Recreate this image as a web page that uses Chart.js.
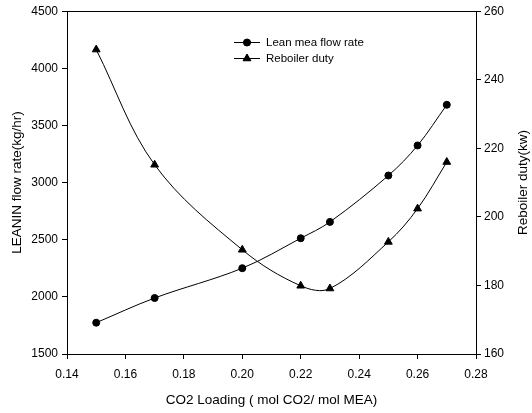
<!DOCTYPE html>
<html>
<head>
<meta charset="utf-8">
<script src="https://cdn.jsdelivr.net/npm/chart.js@4/dist/chart.umd.min.js"></script>
<style>
  html, body { margin: 0; padding: 0; background: #fff; }
  #wrap { width: 532px; height: 413px; }
</style>
</head>
<body>
<div id="wrap"><canvas id="chart" width="532" height="413"></canvas></div>
<script>
// CO2 loading (mol CO2 / mol MEA)
var loading = [0.15, 0.17, 0.20, 0.22, 0.23, 0.25, 0.26, 0.27];
// Lean MEA flow rate (kg/hr), left axis
var leanFlow = [1774, 1990, 2251, 2513, 2656, 3062, 3325, 3681];
// Reboiler duty (kw), right axis
var reboilerDuty = [248.8, 215.2, 190.4, 179.9, 179.1, 192.7, 202.4, 216.0];

var seriesNames = ['Lean mea flow rate', 'Reboiler duty'];
var rightTitle = 'Reboiler duty(kw)';

var font = "'Liberation Sans', Arial, sans-serif";
Chart.defaults.font.family = font;
Chart.defaults.color = '#000';

function toPoints(ys) {
    return loading.map(function(x, i) { return { x: x, y: ys[i] }; });
}

// top border line, right axis title (reads bottom to top) and the legend box
var framePlugin = {
    id: 'frame',
    afterDraw: function(chart) {
        var ctx = chart.ctx;
        var a = chart.chartArea;
        ctx.save();
        ctx.strokeStyle = '#000';
        ctx.lineWidth = 1;
        ctx.beginPath();
        ctx.moveTo(a.left, Math.round(a.top) + 0.5);
        ctx.lineTo(a.right, Math.round(a.top) + 0.5);
        ctx.stroke();

        ctx.save();
        ctx.translate(523, (a.top + a.bottom) / 2);
        ctx.rotate(-Math.PI / 2);
        ctx.font = '13.5px ' + font;
        ctx.fillStyle = '#000';
        ctx.textAlign = 'center';
        ctx.textBaseline = 'middle';
        ctx.fillText(rightTitle, 0, 0);
        ctx.restore();

        var rows = [42, 58];
        chart.data.datasets.forEach(function(ds, i) {
            var y = rows[i] + 0.5;
            ctx.beginPath();
            ctx.moveTo(234, y);
            ctx.lineTo(260, y);
            ctx.stroke();
            Chart.helpers.drawPoint(ctx, {
                pointStyle: ds.pointStyle,
                radius: ds.pointRadius,
                borderWidth: 1
            }, 247, y);
            ctx.fillStyle = '#000';
            ctx.fill();
            ctx.font = '11.5px ' + font;
            ctx.textBaseline = 'middle';
            ctx.textAlign = 'left';
            ctx.fillText(seriesNames[i], 266, y);
        });
        ctx.restore();
    }
};

new Chart(document.getElementById('chart'), {
    type: 'line',
    data: {
        datasets: [{
            label: seriesNames[0],
            data: toPoints(leanFlow),
            yAxisID: 'y',
            borderColor: '#000',
            backgroundColor: '#000',
            borderWidth: 1,
            pointStyle: 'circle',
            pointRadius: 3.5,
            tension: 0.35
        }, {
            label: seriesNames[1],
            data: toPoints(reboilerDuty),
            yAxisID: 'y1',
            borderColor: '#000',
            backgroundColor: '#000',
            borderWidth: 1,
            pointStyle: 'triangle',
            pointRadius: 4.5,
            tension: 0.35
        }]
    },
    options: {
        responsive: false,
        animation: false,
        layout: { padding: { top: 11, left: 0, right: 0, bottom: 0 } },
        plugins: {
            legend: { display: false },
            tooltip: { enabled: false }
        },
        scales: {
            x: {
                type: 'linear',
                min: 0.14,
                max: 0.28,
                afterFit: function(s) { s.height = 59; },
                border: { color: '#000', width: 1 },
                grid: { drawOnChartArea: false, tickLength: 5, tickColor: '#000' },
                ticks: {
                    stepSize: 0.02,
                    font: { size: 12 },
                    padding: 8,
                    maxRotation: 0,
                    callback: function(v) { return v.toFixed(2); }
                },
                title: {
                    display: true,
                    text: 'CO2 Loading ( mol CO2/ mol MEA)',
                    font: { size: 13.5 },
                    padding: { top: 0, bottom: 5 }
                }
            },
            y: {
                position: 'left',
                min: 1500,
                max: 4500,
                afterFit: function(s) { s.width = 67; },
                border: { color: '#000', width: 1 },
                grid: { drawOnChartArea: false, tickLength: 5, tickColor: '#000' },
                ticks: {
                    stepSize: 500,
                    font: { size: 12 },
                    padding: 4,
                    callback: function(v) { return String(v); }
                },
                title: {
                    display: true,
                    text: 'LEANIN flow rate(kg/hr)',
                    font: { size: 13.5 },
                    padding: { top: 9, bottom: 0 }
                }
            },
            y1: {
                position: 'right',
                min: 160,
                max: 260,
                afterFit: function(s) { s.width = 56; },
                border: { color: '#000', width: 1 },
                grid: { drawOnChartArea: false, tickLength: 5, tickColor: '#000' },
                ticks: { stepSize: 20, font: { size: 12 }, padding: 3 }
            }
        }
    },
    plugins: [framePlugin]
});
</script>
</body>
</html>
